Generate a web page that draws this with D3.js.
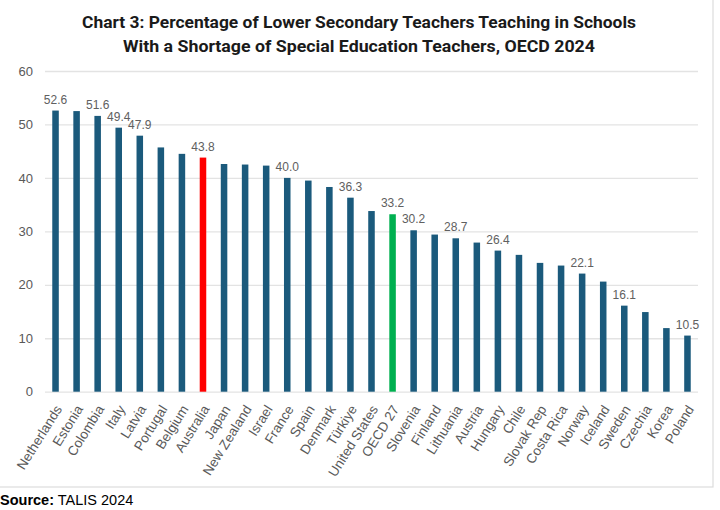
<!DOCTYPE html>
<html>
<head>
<meta charset="utf-8">
<script src="https://cdn.jsdelivr.net/npm/d3@7"></script>
<style>
  html, body { margin: 0; padding: 0; background: #ffffff; }
  svg { display: block; }
</style>
</head>
<body>
<svg id="chart" width="720" height="510"></svg>
<script>
const countries = ["Netherlands","Estonia","Colombia","Italy","Latvia","Portugal","Belgium","Australia","Japan","New Zealand","Israel","France","Spain","Denmark","Türkiye","United States","OECD 27","Slovenia","Finland","Lithuania","Austria","Hungary","Chile","Slovak Rep","Costa Rica","Norway","Iceland","Sweden","Czechia","Korea","Poland"];
const values = [52.6,52.5,51.6,49.4,47.9,45.7,44.5,43.8,42.6,42.5,42.3,40.0,39.5,38.3,36.3,33.8,33.2,30.2,29.4,28.7,27.9,26.4,25.6,24.1,23.6,22.1,20.6,16.1,14.9,11.9,10.5];
const labelled = ["Netherlands","Colombia","Italy","Latvia","Australia","France","Türkiye","OECD 27","Slovenia","Lithuania","Hungary","Norway","Sweden","Poland"];
const highlight = {"Australia": "#ff0000", "OECD 27": "#00b050"};
const yTicks = [0,10,20,30,40,50,60];
const titleLines = ["Chart 3: Percentage of Lower Secondary Teachers Teaching in Schools","With a Shortage of Special Education Teachers, OECD 2024"];

const data = countries.map((c,i) => ({country: c, value: values[i]}));
const svg = d3.select("#chart");

// frame
svg.append("rect").attr("x",-1).attr("y",-1).attr("width",714).attr("height",488)
  .attr("fill","none").attr("stroke","#dcdcdc").attr("stroke-width",1.2);

const x = d3.scaleBand().domain(countries).range([45,698]).paddingInner(0.69).paddingOuter(0.345);
const y = d3.scaleLinear().domain([0,60]).range([391.7,71]);

// gridlines + y axis labels
const yAxis = d3.axisLeft(y).tickValues(yTicks).tickSize(-(698-45)).tickPadding(12).tickFormat(d3.format("d"));
const ga = svg.append("g").attr("transform","translate(45,0)").call(yAxis);
ga.select(".domain").remove();
ga.selectAll(".tick line").attr("stroke","#e3e3e3").attr("stroke-width",1.3);
ga.selectAll(".tick text").attr("fill","#595959").attr("font-family","Liberation Sans, Arial, sans-serif").attr("font-size",13);

// bars
svg.append("g").selectAll("rect").data(data).join("rect")
  .attr("x", d => x(d.country))
  .attr("width", x.bandwidth())
  .attr("y", d => y(d.value))
  .attr("height", d => y(0) - y(d.value))
  .attr("fill", d => highlight[d.country] || "#1b5a7c");

// data labels
svg.append("g").selectAll("text").data(data.filter(d => labelled.includes(d.country))).join("text")
  .attr("x", d => x(d.country) + x.bandwidth()/2)
  .attr("y", d => y(d.value) - 7)
  .attr("text-anchor","middle")
  .attr("fill","#606060")
  .attr("font-family","Liberation Sans, Arial, sans-serif")
  .attr("font-size",12)
  .text(d => d.value.toFixed(1));

// x axis labels
const xAxis = d3.axisBottom(x).tickSize(0).tickPadding(0);
const gx = svg.append("g").attr("transform","translate(0,392)").call(xAxis);
gx.select(".domain").remove();
gx.selectAll(".tick text")
  .attr("text-anchor","end")
  .attr("dy",0)
  .attr("fill","#595959")
  .attr("font-family","Liberation Sans, Arial, sans-serif")
  .attr("font-size",13.5)
  .attr("transform","translate(7,17) rotate(-58)");

// title
const tw = [554, 472];
svg.append("g").selectAll("text").data(titleLines).join("text")
  .attr("x",359)
  .attr("y",(d,i) => 28 + i*23.5)
  .attr("text-anchor","middle")
  .attr("font-family","Roboto, Liberation Sans, Arial, sans-serif")
  .attr("font-weight","bold")
  .attr("font-size",16)
  .attr("fill","#1a1a1a")
  .attr("textLength",(d,i) => tw[i])
  .attr("lengthAdjust","spacingAndGlyphs")
  .text(d => d);

// source
const src = svg.append("text").attr("x",0).attr("y",505)
  .attr("font-family","Liberation Sans, Arial, sans-serif").attr("font-size",14.5).attr("fill","#000");
src.append("tspan").attr("font-weight","bold").text("Source:");
src.append("tspan").text(" TALIS 2024");
</script>
</body>
</html>
